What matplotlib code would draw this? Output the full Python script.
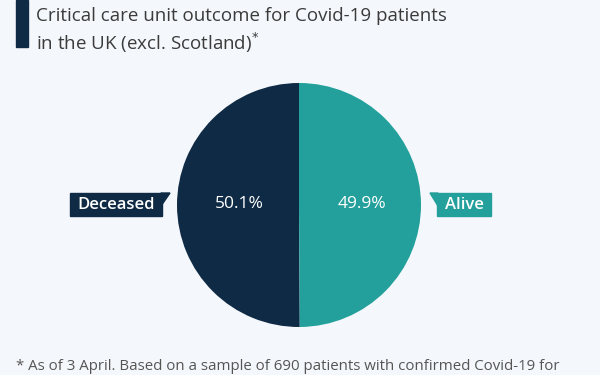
import matplotlib
matplotlib.use("Agg")
import matplotlib.pyplot as plt
from matplotlib.patches import Polygon, Rectangle

categories = ["Deceased", "Alive"]
values = [50.1, 49.9]
colors = ["#0f2a44", "#23a09b"]
pct_labels = ["50.1%", "49.9%"]

plt.rcParams['font.family'] = ['Open Sans', 'DejaVu Sans']
W, H = 600, 375
BG = "#f4f7fb"
fig = plt.figure(figsize=(6, 3.75), dpi=100, facecolor=BG)

def fx(x): return x / W
def fy(y): return 1 - y / H

# title bar
fig.patches.append(Rectangle((fx(16), fy(47)), fx(12), 47 / H, transform=fig.transFigure,
                             color="#0f2a44", zorder=1))
fig.text(fx(36), fy(16), "Critical care unit outcome for Covid-19 patients", fontsize=13.5,
         color="#3b3b3b", va="center", ha="left")
fig.text(fx(36), fy(43), "in the UK (excl. Scotland)$^{*}$", fontsize=13.5,
         color="#3b3b3b", va="center", ha="left")

# pie
cx, cy, r = 299, 205, 122
ax = fig.add_axes([fx(cx - r), fy(cy + r), 2 * r / W, 2 * r / H])
ax.set_facecolor(BG)
ax.pie(values, colors=colors, startangle=90, counterclock=True,
       wedgeprops=dict(linewidth=0))
ax.set_xlim(-1, 1)
ax.set_ylim(-1, 1)
ax.set_aspect("equal")
ax.axis("off")

# percentage labels
fig.text(fx(239), fy(204), pct_labels[0], color="white", fontsize=12.5, ha="center", va="center")
fig.text(fx(362), fy(204), pct_labels[1], color="white", fontsize=12.5, ha="center", va="center")

# category tags
def tag(x0, x1, y0, y1, color, text, tail):
    fig.patches.append(Rectangle((fx(x0), fy(y1)), (x1 - x0) / W, (y1 - y0) / H,
                                 transform=fig.transFigure, color=color))
    fig.patches.append(Polygon([(fx(p[0]), fy(p[1])) for p in tail], closed=True,
                               transform=fig.transFigure, color=color))
    fig.text(fx((x0 + x1) / 2), fy((y0 + y1) / 2 + 0.5), text, color="white", fontsize=12,
             fontweight="semibold", ha="center", va="center")

tag(70, 162, 193, 216, colors[0], categories[0], [(161, 193), (170, 193), (161, 206)])
tag(437, 491, 193, 216, colors[1], categories[1], [(438, 193), (430, 193), (438, 206)])

# footnote
fig.text(fx(16), fy(366), "* As of 3 April. Based on a sample of 690 patients with confirmed Covid-19 for",
         fontsize=10.8, color="#555555", ha="left", va="center")

fig.savefig("out.png", dpi=100, facecolor=BG)
